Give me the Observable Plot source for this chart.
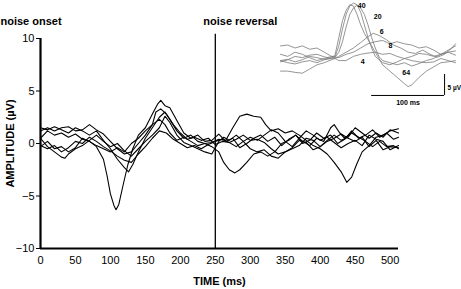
<!DOCTYPE html>
<html><head><meta charset="utf-8">
<script src="https://cdn.jsdelivr.net/npm/d3@7"></script>
<script src="https://cdn.jsdelivr.net/npm/@observablehq/plot@0.6"></script>
<style>
body{margin:0;background:#fff;}
#wrap{position:relative;width:461px;height:289px;overflow:hidden;font-family:"Liberation Sans",Arial,sans-serif;}
#wrap svg{position:absolute;}
</style></head><body>
<div id="wrap"></div>
<script>
// ---- main chart data: [time ms, amplitude µV]
const trace1 = [[0,0.5],[10,1.2],[20,0.8],[30,1.0],[40,0.6],[50,0.9],[60,0.4],[70,0.2],[80,-0.3],[90,-1.5],[95,-3],[100,-4.8],[105,-5.9],[108,-6.3],[112,-5.8],[118,-4],[125,-2],[132,-0.5],[140,0.8],[150,1.5],[160,2.8],[168,3.8],[172,4.1],[178,3.6],[185,3.4],[195,2.2],[205,1.0],[215,0.5],[225,0.8],[235,0.2],[245,0.3],[255,0.9],[265,0.2],[275,0.5],[285,-0.4],[295,0],[305,0.5],[315,0.8],[325,0.2],[335,0.6],[345,-0.2],[355,0.4],[365,0.8],[375,0],[385,0.3],[395,1.0],[405,0.5],[415,0.8],[425,0],[435,0.4],[445,1.2],[455,0.5],[465,0.8],[475,1.3],[485,0.6],[495,1.0],[505,0.4],[512,0.6]];
const trace2 = [[0,1.5],[10,1.3],[20,1.6],[30,1.3],[40,1.0],[50,1.5],[60,1.2],[70,0.8],[80,1.2],[90,0.3],[100,-0.5],[110,-1.5],[120,-2.3],[126,-2.7],[132,-2],[140,-0.8],[150,0.5],[160,1.5],[170,2.5],[178,3.0],[185,2.3],[195,1.2],[205,0.5],[215,0.8],[225,0.2],[235,0],[245,-0.3],[255,-0.8],[262,-1.8],[270,-2.5],[278,-2.8],[285,-2.5],[295,-1.8],[305,-1.0],[315,-0.8],[325,-1.2],[335,-0.8],[345,0],[355,0.3],[365,0.8],[375,0.2],[385,-0.2],[395,0.5],[405,0.2],[415,1.5],[420,1.8],[428,1.0],[435,0.5],[445,1.0],[455,0.6],[465,0.2],[475,-0.3],[485,0.2],[495,-0.3],[505,-0.2],[512,-0.5]];
const trace3 = [[0,-0.3],[10,0.2],[20,-0.5],[30,-0.3],[40,-0.8],[50,-0.4],[60,0.5],[70,0.2],[80,-0.2],[90,-0.5],[100,-0.8],[110,-0.4],[120,-0.8],[130,0],[140,0.5],[150,1.2],[160,1.8],[170,2.3],[178,1.8],[185,1.0],[195,0.3],[205,0.6],[215,0.2],[225,-0.2],[235,0],[245,0.1],[255,0.4],[265,0.3],[275,1.5],[285,2.6],[295,2.8],[305,2.6],[315,2.5],[322,1.8],[330,1.2],[340,1.4],[350,1.0],[360,1.2],[370,0.8],[380,0.3],[390,-0.2],[400,-0.5],[410,-1.0],[420,-1.8],[430,-2.7],[438,-3.7],[445,-3.2],[452,-2.0],[460,-0.8],[470,-0.2],[480,0.6],[490,0.8],[500,1.2],[512,1.4]];
const trace4 = [[0,0.5],[10,-0.3],[20,-0.8],[30,-1.3],[35,-1.4],[40,-1.0],[50,-0.5],[60,-0.2],[70,0.3],[80,0.8],[90,0.2],[100,-0.3],[110,0],[120,-0.7],[130,-1.2],[140,-0.5],[150,0.2],[160,0.8],[170,1.5],[178,2.6],[185,2.0],[195,0.8],[205,0.1],[215,-0.2],[225,-0.5],[235,-0.8],[245,-1.0],[255,0.2],[262,0.6],[270,0.3],[280,0.8],[290,0.2],[300,-0.5],[310,-0.8],[320,-0.6],[330,-1.2],[340,-1.4],[350,-0.8],[360,-0.5],[370,-0.2],[380,0.5],[390,0.3],[400,-0.3],[410,0.2],[420,0.5],[430,0.9],[440,0.5],[450,0.2],[460,0.6],[470,-0.3],[480,0.3],[490,-0.6],[500,-0.3],[512,-0.4]];
const trace5 = [[0,1.2],[10,1.5],[20,1.2],[30,1.5],[40,1.6],[50,1.2],[60,1.3],[70,1.8],[80,1.3],[90,0.9],[100,0.2],[110,-0.5],[120,-1.0],[130,-0.8],[140,0],[150,0.8],[160,1.8],[165,3.0],[172,3.3],[180,2.8],[190,1.8],[200,1.0],[210,0.4],[220,0.6],[230,0.3],[240,0.5],[250,-0.1],[260,0.2],[270,0.1],[280,-0.3],[290,0.2],[300,0.6],[310,0.3],[320,0.8],[330,1.3],[340,1.0],[350,0.2],[360,-0.3],[370,0.5],[380,1.2],[390,0.8],[400,0.3],[410,0.6],[420,0.1],[430,-0.4],[440,0],[450,0.3],[460,-0.2],[470,0.8],[480,0.4],[490,0.2],[500,-0.6],[512,-0.2]];
const trace6 = [[0,-0.2],[10,-0.5],[20,-0.2],[30,-0.8],[40,-0.4],[50,0.2],[60,0],[70,0.6],[80,0.2],[90,-0.3],[100,-0.7],[110,-1.2],[120,-1.6],[130,-1.8],[140,-1.0],[150,-0.3],[160,0.5],[170,1.2],[180,1.0],[190,0.4],[200,0],[210,-0.4],[220,-0.2],[230,-0.5],[240,-0.1],[250,0.2],[260,0.4],[270,0.1],[280,0.4],[290,0.8],[300,0.3],[310,0.4],[320,0.1],[330,-0.5],[340,-1.0],[350,-0.8],[360,-0.4],[370,0.3],[380,0.1],[390,-0.6],[400,-0.3],[410,0.3],[420,0.8],[430,0.3],[440,0.6],[450,1.5],[460,1.0],[470,0.5],[480,1.0],[490,0.6],[500,1.3],[512,1.0]];
const xTicks = [0,50,100,150,200,250,300,350,400,450,500];
const yTicks = [-10,-5,0,5,10];
const events = [{label:"noise onset", time:0}, {label:"noise reversal", time:250}];

// ---- inset data: [time ms, amplitude µV], labelled by level
const inset40 = [[0,1],[10,0.5],[20,1.5],[30,1],[40,0.2],[50,-0.5],[60,0],[70,0.5],[75,0.5],[80,3],[85,7],[90,10.5],[95,12.5],[100,13.2],[105,12.8],[110,11],[115,8],[120,5],[125,2.5],[130,0.5],[140,-1],[150,-1.5],[160,-0.8],[170,0],[180,0.5],[190,1.2],[200,1],[210,0.5],[220,1],[230,2],[240,3]];
const inset20 = [[0,-0.8],[10,-0.3],[20,0.5],[30,0.2],[40,0.8],[50,1],[60,0.4],[70,0],[75,0.3],[80,1.5],[85,4],[90,7.5],[95,10.5],[100,12],[105,12.7],[110,12],[115,10.5],[120,8],[125,5],[130,2.5],[135,0.5],[140,-0.5],[150,-1],[160,-1.5],[170,-1],[180,-1.8],[190,-1.2],[200,-0.5],[210,0],[220,1],[230,1.5],[240,0.8]];
const inset64 = [[0,-0.5],[10,-1],[20,-1.3],[30,-0.8],[40,-0.5],[50,-1],[60,-0.3],[70,0],[75,1],[80,5],[85,9],[90,11.5],[95,12.8],[100,12.5],[105,10.5],[110,8],[115,6],[120,4.5],[125,3],[130,1.5],[135,0],[140,-1.5],[150,-3],[160,-4.5],[170,-6],[175,-6.7],[180,-6.3],[190,-4.5],[200,-3],[210,-2],[220,-1],[230,-0.8],[240,-0.5]];
const inset6 = [[0,-0.5],[10,-0.2],[20,-0.8],[30,-0.3],[40,0.5],[50,0.2],[60,-0.2],[70,0.2],[75,0],[80,0.5],[90,1.5],[100,2.5],[110,3.8],[120,5.2],[127,6],[135,5.5],[145,4.5],[155,3.2],[165,2.5],[175,1.5],[185,1.2],[195,2],[205,1],[215,0.3],[225,1],[235,2.5],[240,3.5]];
const inset8 = [[0,3],[10,3.2],[20,2.5],[30,3],[40,2.2],[50,2.5],[60,1.5],[70,0.5],[75,0.3],[80,0.2],[90,1],[100,1.5],[110,2.5],[120,3.5],[130,4],[140,4.3],[150,3.5],[160,4],[170,3.5],[180,3.2],[190,2.5],[200,2.8],[210,2],[220,1],[230,1.5],[240,1.8]];
const inset4 = [[0,-3],[10,-3],[20,-3.3],[30,-3.5],[40,-2.5],[50,-1.5],[60,-1],[70,-0.3],[75,0],[80,-0.5],[90,-0.5],[100,0.5],[110,1],[120,1.3],[130,1.5],[140,1],[150,1.2],[160,0.5],[170,0],[180,-0.5],[190,-0.8],[200,-1],[210,-0.8],[220,0],[230,-0.5],[240,-1]];
const insetLabels = [
  {label:"40", t:106, v:12.6},
  {label:"20", t:128, v:10},
  {label:"6", t:136, v:6.4},
  {label:"8", t:148, v:3.1},
  {label:"4", t:110, v:-0.7},
  {label:"64", t:167, v:-3.3}
];
const scaleBarTime = [125, 225];   // 100 ms
const scaleBarAmp = [-8.8, -3.8];  // 5 µV

const traces = [trace1,trace2,trace3,trace4,trace5,trace6];
const mainData = traces.flatMap((tr,i)=>tr.map(([t,v])=>({t,v,s:i})));
const insetSeries = {"40":inset40,"20":inset20,"64":inset64,"6":inset6,"8":inset8,"4":inset4};
const insetData = Object.entries(insetSeries).flatMap(([k,tr])=>tr.map(([t,v])=>({t,v,s:k})));

const font = "Liberation Sans, Arial, sans-serif";

const main = Plot.plot({
  width:461, height:289,
  marginLeft:40, marginRight:63, marginTop:38, marginBottom:41,
  style:{fontFamily:font, background:"transparent", overflow:"visible"},
  x:{domain:[0,512]},
  y:{domain:[-10,10]},
  marks:[
    Plot.axisY({ticks:yTicks, tickSize:4, tickPadding:2, fontSize:11, label:"AMPLITUDE (µV)", labelAnchor:"center", labelArrow:"none", labelOffset:34}),
    Plot.axisX({ticks:xTicks, tickSize:0, tickPadding:8, fontSize:11, label:"TIME (ms)", labelAnchor:"center", labelArrow:"none", labelOffset:36}),
    Plot.line(mainData, {x:"t", y:"v", z:"s", stroke:"black", strokeWidth:1.1, curve:"linear"}),
    Plot.ruleX([250], {y1:-10, y2:10.4, stroke:"black", strokeWidth:1.3}),
    Plot.ruleY([-10], {x1:0, x2:512, stroke:"black", strokeWidth:2.2}),
    Plot.ruleX([0], {y1:-10, y2:10, stroke:"black", strokeWidth:2.2}),
    Plot.text(events, {x:"time", text:"label", frameAnchor:"top", dy:-21, textAnchor:"start", fontWeight:"bold", fontSize:11, fill:"black"})
  ]
});
main.querySelectorAll('[aria-label="y-axis label"] text, [aria-label="x-axis label"] text').forEach(t=>{t.setAttribute("font-weight","bold");});
document.getElementById("wrap").appendChild(main);

// shift event labels horizontally
main.querySelectorAll('[aria-label="text"] text').forEach((t,i)=>{ t.setAttribute("dx", i===0 ? -40 : -12); });

const inset = Plot.plot({
  width:191, height:110, margin:0,
  style:{fontFamily:font, background:"transparent", overflow:"visible"},
  x:{domain:[0,240], range:[10,185], axis:null},
  y:{domain:[-10,10], range:[100,16], axis:null},
  marks:[
    Plot.line(insetData, {x:"t", y:"v", z:"s", stroke:"#7a7a7a", strokeWidth:0.8}),
    Plot.ruleY([scaleBarAmp[0]], {x1:scaleBarTime[0], x2:scaleBarTime[1], stroke:"black", strokeWidth:1}),
    Plot.ruleX([scaleBarTime[1]], {y1:scaleBarAmp[0], y2:scaleBarAmp[1], stroke:"black", strokeWidth:1}),
    Plot.text(["5 µV"], {x:scaleBarTime[1], y:(scaleBarAmp[0]+scaleBarAmp[1])/2 - 0.6, dx:3, textAnchor:"start", fontWeight:"bold", fontSize:6.5}),
    Plot.text(["100 ms"], {x:(scaleBarTime[0]+scaleBarTime[1])/2, y:scaleBarAmp[0], dy:5, lineAnchor:"top", fontWeight:"bold", fontSize:7}),
    Plot.text(insetLabels, {x:"t", y:"v", text:"label", fontWeight:"bold", fontSize:7, textAnchor:"start", fill:"black"})
  ]
});
inset.style.left = "270px";
inset.style.top = "0px";
document.getElementById("wrap").appendChild(inset);
</script>
</body></html>
